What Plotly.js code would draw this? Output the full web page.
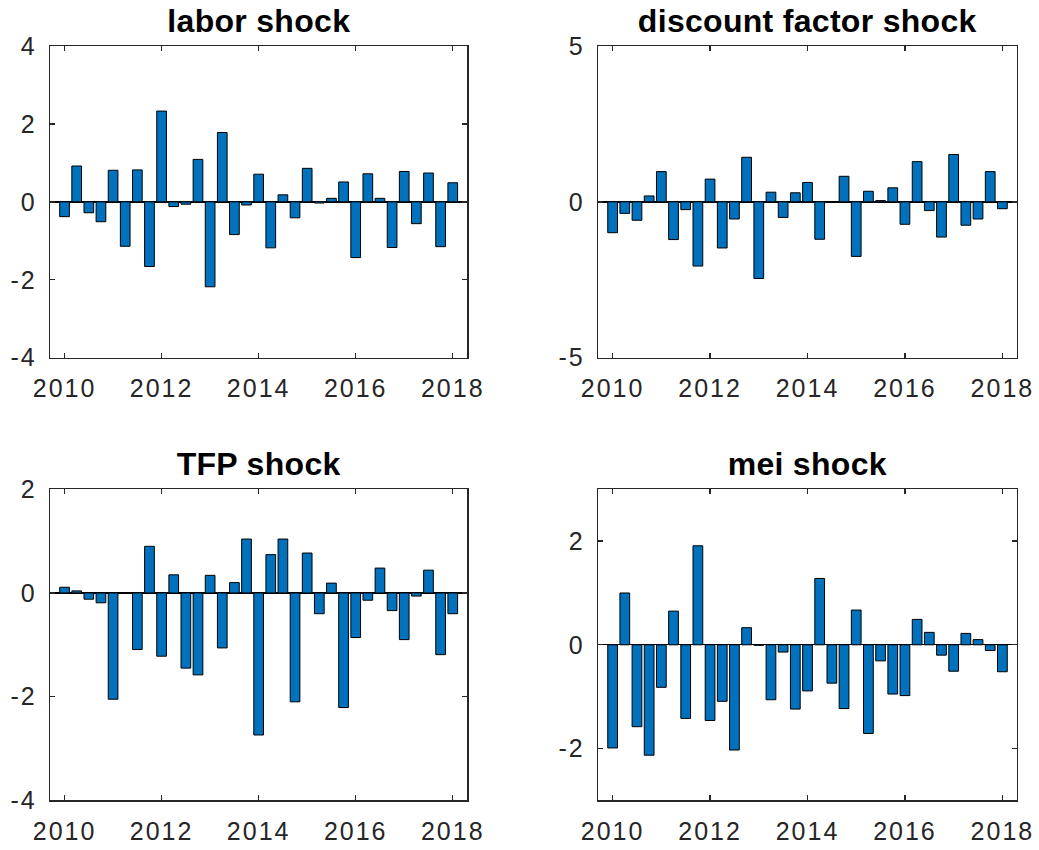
<!DOCTYPE html>
<html>
<head>
<meta charset="utf-8">
<script src="https://cdn.plot.ly/plotly-3.0.1.min.js"></script>
<style>
html,body{margin:0;padding:0;background:#fff;}
#chart{width:1039px;height:850px;}
#chart .xaxislayer-above text, #chart .yaxislayer-above text{letter-spacing:2px;}
#chart .annotation-text{letter-spacing:0.3px;}
</style>
</head>
<body>
<div id="chart"></div>
<script>
// Quarterly observations 2010Q1 .. 2018Q1
const startYear = 2010;
const nQuarters = 33;
const dates = Array.from({length: nQuarters}, (_, i) => startYear + i / 4);

const laborShock = [-0.38, 0.92, -0.28, -0.51, 0.81, -1.14, 0.82, -1.66, 2.33, -0.12, -0.06, 1.09,
  -2.18, 1.78, -0.84, -0.08, 0.71, -1.18, 0.18, -0.41, 0.86, -0.03, 0.09, 0.51,
  -1.43, 0.72, 0.09, -1.17, 0.78, -0.56, 0.74, -1.15, 0.49];
const discountShock = [-0.99, -0.37, -0.59, 0.19, 0.97, -1.21, -0.25, -2.06, 0.73, -1.48, -0.55, 1.43,
  -2.46, 0.31, -0.50, 0.29, 0.62, -1.20, 0.01, 0.82, -1.75, 0.34, 0.04, 0.45,
  -0.72, 1.29, -0.28, -1.13, 1.52, -0.75, -0.55, 0.97, -0.22];
const tfpShock = [0.11, 0.04, -0.12, -0.19, -2.05, -0.01, -1.09, 0.90, -1.22, 0.35, -1.45, -1.58,
  0.34, -1.06, 0.20, 1.04, -2.74, 0.74, 1.04, -2.10, 0.77, -0.40, 0.19, -2.21,
  -0.86, -0.14, 0.48, -0.34, -0.90, -0.06, 0.44, -1.19, -0.40];
const meiShock = [-1.99, 1.00, -1.58, -2.13, -0.82, 0.65, -1.42, 1.91, -1.46, -1.09, -2.03, 0.33,
  -0.01, -1.06, -0.14, -1.24, -0.89, 1.28, -0.74, -1.23, 0.67, -1.71, -0.31, -0.95,
  -0.98, 0.49, 0.24, -0.20, -0.51, 0.22, 0.10, -0.11, -0.52];

const panelTitles = ["labor shock", "discount factor shock", "TFP shock", "mei shock"];
const seriesList = [laborShock, discountShock, tfpShock, meiShock];
const yRanges = [[-4, 4], [-5, 5], [-4, 2], [-3, 3]];
const yTickVals = [[-4, -2, 0, 2, 4], [-5, 0, 5], [-4, -2, 0, 2], [-2, 0, 2]];
const yTickText = [["-4", "-2", "0", "2", "4"], ["-5", "0", "5"], ["-4", "-2", "0", "2"], ["-2", "0", "2"]];
const xTickVals = [2010, 2012, 2014, 2016, 2018];
const xTickText = ["2010", "2012", "2014", "2016", "2018"];

const W = 1039, H = 850;
const colDomains = [[50 / W, 467.3 / W], [598 / W, 1017 / W]];
const rowDomains = [[1 - 357.7 / H, 1 - 46 / H], [1 - 800.3 / H, 1 - 489.3 / H]];
const titleBaselinePx = [31.7, 474.5];

const axisColor = "#262626";
const tickFont = {family: "Liberation Sans, Arial, sans-serif", size: 25, color: axisColor};

const traces = [];
const layout = {
  width: W, height: H,
  margin: {l: 0, r: 0, t: 0, b: 0},
  paper_bgcolor: "#ffffff",
  plot_bgcolor: "#ffffff",
  showlegend: false,
  bargap: 0,
  annotations: []
};

seriesList.forEach((vals, k) => {
  const row = Math.floor(k / 2), col = k % 2;
  const n = k + 1;
  const xa = n === 1 ? "x" : "x" + n;
  const ya = n === 1 ? "y" : "y" + n;
  traces.push({
    type: "bar",
    x: dates,
    y: vals,
    width: 0.2,
    xaxis: xa, yaxis: ya,
    marker: {color: "#0072BD", line: {color: "#000000", width: 1}},
    hoverinfo: "x+y"
  });
  const common = {
    showline: true, linecolor: axisColor, linewidth: 1.3,
    mirror: "ticks", ticks: "inside", ticklen: 5, tickwidth: 1.3, tickcolor: axisColor,
    showgrid: false, tickfont: tickFont, fixedrange: true
  };
  layout["xaxis" + (n === 1 ? "" : n)] = Object.assign({}, common, {
    domain: colDomains[col],
    anchor: ya,
    range: [2009.7, 2018.3],
    tickmode: "array", tickvals: xTickVals, ticktext: xTickText,
    zeroline: false,
    ticklabelstandoff: 8
  });
  layout["yaxis" + (n === 1 ? "" : n)] = Object.assign({}, common, {
    domain: rowDomains[row],
    anchor: xa,
    range: yRanges[k],
    tickmode: "array", tickvals: yTickVals[k], ticktext: yTickText[k],
    zeroline: true, zerolinecolor: "#000000", zerolinewidth: 1.3,
    ticklabelstandoff: 7
  });
  const cx = (colDomains[col][0] + colDomains[col][1]) / 2;
  layout.annotations.push({
    text: "<b>" + panelTitles[k] + "</b>",
    xref: "paper", yref: "paper",
    x: cx, y: 1 - (titleBaselinePx[row] + 9) / H,
    xanchor: "center", yanchor: "bottom",
    showarrow: false,
    font: {family: "Liberation Sans, Arial, sans-serif", size: 32, color: "#000000"}
  });
});

Plotly.newPlot("chart", traces, layout, {staticPlot: true, displayModeBar: false});
</script>
</body>
</html>
